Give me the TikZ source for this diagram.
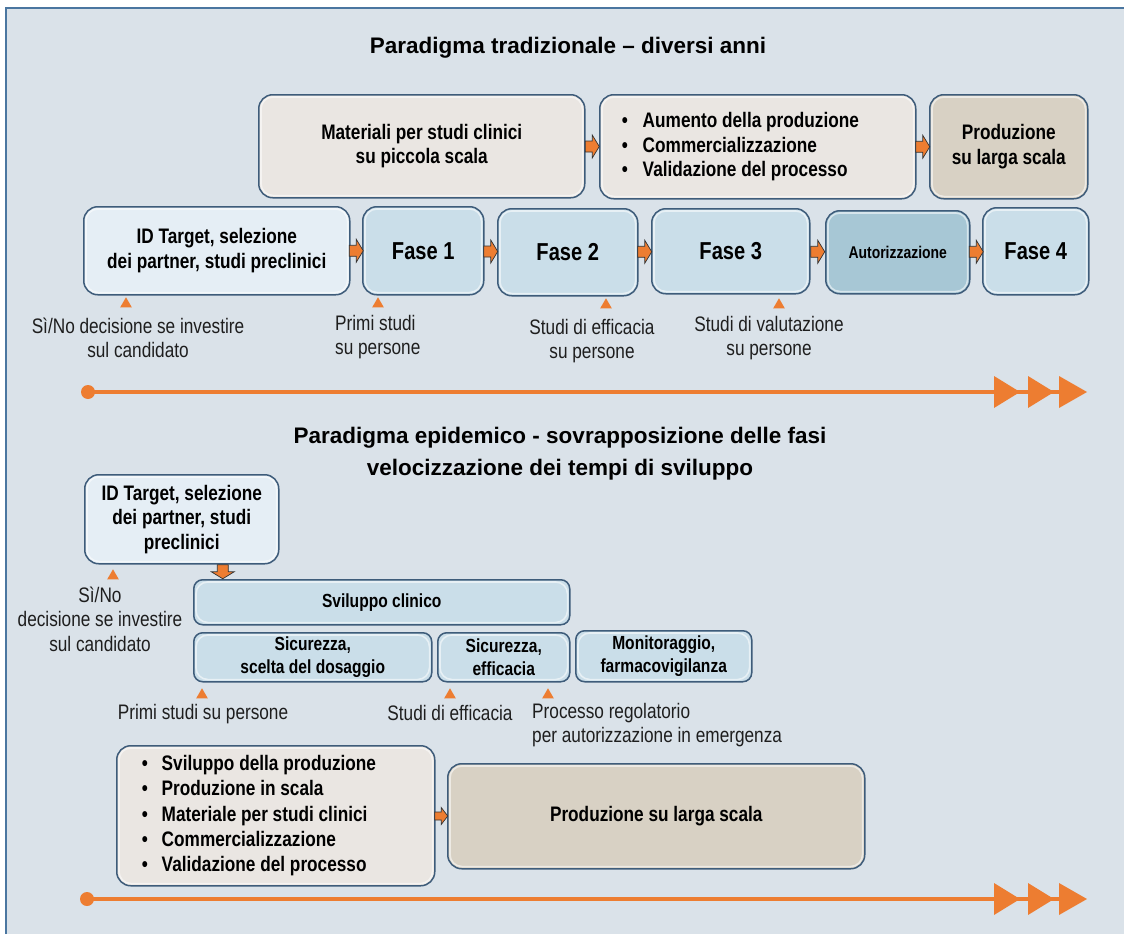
\documentclass[tikz,border=0pt]{standalone}
\usepackage{fontspec}
\setmainfont{Liberation Sans}
\newfontfamily\nrw[FakeStretch=0.82]{Liberation Sans}
\usetikzlibrary{shapes.geometric}
\definecolor{bg}{RGB}{218,226,233}
\definecolor{frame}{RGB}{74,118,160}
\definecolor{boxline}{RGB}{62,92,122}
\definecolor{warm}{RGB}{234,230,226}
\definecolor{tan}{RGB}{216,209,196}
\definecolor{paleblue}{RGB}{229,238,245}
\definecolor{midblue}{RGB}{202,222,233}
\definecolor{darkblue}{RGB}{167,199,213}
\definecolor{orng}{RGB}{237,125,49}
\definecolor{lbl}{RGB}{30,30,30}
\newcommand{\mybul}{\makebox[21pt][l]{•}}
\newcommand{\mybulb}{\makebox[20pt][l]{•}}
\begin{document}
\begin{tikzpicture}[x=1pt,y=-1pt,
  box/.style={draw=boxline, line width=1.5pt, rounded corners=14pt, inner sep=0pt,
    align=center, anchor=north west, text=black,
    font=\nrw\bfseries\fontsize{21}{24.5}\selectfont,
    path picture={\draw[white, opacity=.55, line width=1.6pt, rounded corners=12pt]
      ([shift={(2.2pt,-2.2pt)}]path picture bounding box.north west) rectangle
      ([shift={(-2.2pt,2.2pt)}]path picture bounding box.south east);}},
  sbox/.style={box, rounded corners=9pt, fill=midblue,
    font=\nrw\bfseries\fontsize{19}{23}\selectfont},
  fase/.style={box, fill=midblue, font=\nrw\bfseries\fontsize{24.5}{28}\selectfont},
  lab/.style={align=center, inner sep=0pt, text=lbl,
    font=\nrw\fontsize{21}{24.5}\selectfont},
  ttl/.style={inner sep=0pt, align=center, text=black,
    font=\bfseries\fontsize{22.5}{32}\selectfont},
  tri/.style={regular polygon, regular polygon sides=3, fill=orng, inner sep=0pt,
    minimum size=13.5pt},
  arrbody/.style={fill=orng, draw=black!80, line width=0.7pt, line join=miter},
  barr/.pic={\filldraw[arrbody] (-7,-5.5) -- (0,-5.5) -- (0,-11.5) -- (7,0) -- (0,11.5) -- (0,5.5) -- (-7,5.5) -- cycle;},
  sarr/.pic={\filldraw[arrbody] (-6.5,-4) -- (0,-4) -- (0,-8.5) -- (6.5,0) -- (0,8.5) -- (0,4) -- (-6.5,4) -- cycle;},
  dot/.style={circle, fill=orng, inner sep=0pt, minimum size=14pt},
  tline/.style={orng, line width=4.5pt}
]
\useasboundingbox (0,0) rectangle (1124,934);
\fill[white] (0,0) rectangle (1124,934);
\fill[bg] (6,8) rectangle (1124,934);
\draw[frame, line width=2pt] (6,934) -- (6,8) -- (1124,8);

% ---------- top section ----------
\node[ttl] (t1) at (568,48) {Paradigma tradizionale – diversi anni};

\node[box, fill=warm, minimum width=326pt, minimum height=103pt] (mat) at (258,94)
  {Materiali per studi clinici\\su piccola scala};
\node[box, fill=warm, minimum width=316pt, minimum height=104pt, align=flush left,
  inner xsep=22pt, text width=272pt] (aum) at (599,94)
  {\mybul Aumento della produzione\\\mybul Commercializzazione\\\mybul Validazione del processo};
\node[box, fill=tan, minimum width=158pt, minimum height=104pt] (prod) at (929,94)
  {Produzione\\su larga scala};

\node[box, fill=paleblue, minimum width=266pt, minimum height=88pt] (idt) at (83,206)
  {ID Target, selezione\\dei partner, studi preclinici};
\node[fase, minimum width=121pt, minimum height=88pt] (f1) at (362,206) {Fase 1};
\node[fase, minimum width=140pt, minimum height=87pt] (f2) at (497,208) {Fase 2};
\node[fase, minimum width=158pt, minimum height=85pt] (f3) at (651,208) {Fase 3};
\node[box, fill=darkblue, minimum width=144pt, minimum height=83pt,
  font=\nrw\bfseries\fontsize{17}{20}\selectfont] (aut) at (825,210) {Autorizzazione};
\node[fase, minimum width=106pt, minimum height=87pt] (f4) at (982,207) {Fase 4};

\path (mat.east) -- (aum.west) pic[pos=0.5] {barr};
\path (aum.east) -- (prod.west) pic[pos=0.5] {barr};
\path (idt.east) -- (f1.west) pic[pos=0.5] {barr};
\path (f1.east) -- (f2.west) pic[pos=0.5] {barr};
\path (f2.east) -- (f3.west) pic[pos=0.5] {barr};
\path (f3.east) -- (aut.west) pic[pos=0.5] {barr};
\path (aut.east) -- (f4.west) pic[pos=0.5] {barr};

\node[tri] (m1) at (126,304) {};
\node[tri] (m2) at (378,304) {};
\node[tri] (m3) at (606,305) {};
\node[tri] (m4) at (779,305) {};

\node[lab] (l1) at (138,338) {Sì/No decisione se investire\\sul candidato};
\node[lab, align=flush left, anchor=west] (l2) at (335,337) {Primi studi\\su persone};
\node[lab] (l3) at (592,341) {Studi di efficacia\\su persone};
\node[lab] (l4) at (769,338) {Studi di valutazione\\su persone};

\node[dot] (s1) at (88,392) {};
\coordinate (e1) at (1060,392);
\draw[tline] (s1.center) -- (e1);
\foreach \a/\w in {994/26,1028/26,1059/28}
  \fill[orng] (\a,376) -- (\a+\w,392) -- (\a,408) -- cycle;

% ---------- bottom section ----------
\node[ttl] (t2) at (560,454) {Paradigma epidemico - sovrapposizione delle fasi\\velocizzazione dei tempi di sviluppo};

\node[box, fill=paleblue, minimum width=194pt, minimum height=89pt] (idb) at (84,474)
  {ID Target, selezione\\dei partner, studi\\preclinici};
\node[sbox, minimum width=376pt, minimum height=45pt] (svil) at (193,579) {Sviluppo clinico};
\node[sbox, minimum width=238pt, minimum height=49pt] (sic1) at (193,632) {Sicurezza,\\scelta del dosaggio};
\node[sbox, minimum width=132pt, minimum height=49pt] (sic2) at (437,632) {Sicurezza,\\efficacia};
\node[sbox, minimum width=176pt, minimum height=51pt] (mon) at (575,630) {Monitoraggio,\\farmacovigilanza};

\path ([xshift=41pt]idb.south) -- ([xshift=41pt]idb.south |- svil.north)
  pic[pos=0.5, rotate=-90] {barr};

\node[tri] (m5) at (113,576) {};
\node[tri] (m6) at (202,695) {};
\node[tri] (m7) at (450,695) {};
\node[tri] (m8) at (548,695) {};

\node[lab] (l5) at (100,619) {Sì/No\\decisione se investire\\sul candidato};
\node[lab] (l6) at (203,714) {Primi studi su persone};
\node[lab] (l7) at (450,713) {Studi di efficacia};
\node[lab, align=flush left, anchor=west] (l8) at (532,725) {Processo regolatorio\\per autorizzazione in emergenza};

\node[box, fill=warm, minimum width=318pt, minimum height=140pt, align=flush left,
  inner xsep=25pt, text width=268pt, font=\nrw\bfseries\fontsize{21}{25.2}\selectfont] (bul2) at (116,745)
  {\mybulb Sviluppo della produzione\\\mybulb Produzione in scala\\\mybulb Materiale per studi clinici\\\mybulb Commercializzazione\\\mybulb Validazione del processo};
\node[box, fill=tan, minimum width=417pt, minimum height=105pt] (prod2) at (447,763)
  {Produzione su larga scala};
\path (bul2.east) -- (prod2.west) pic[pos=0.5] {sarr};

\node[dot] (s2) at (87,899) {};
\coordinate (e2) at (1060,899);
\draw[tline] (s2.center) -- (e2);
\foreach \a/\w in {994/26,1028/26,1059/28}
  \fill[orng] (\a,883) -- (\a+\w,899) -- (\a,915) -- cycle;
\end{tikzpicture}
\end{document}
